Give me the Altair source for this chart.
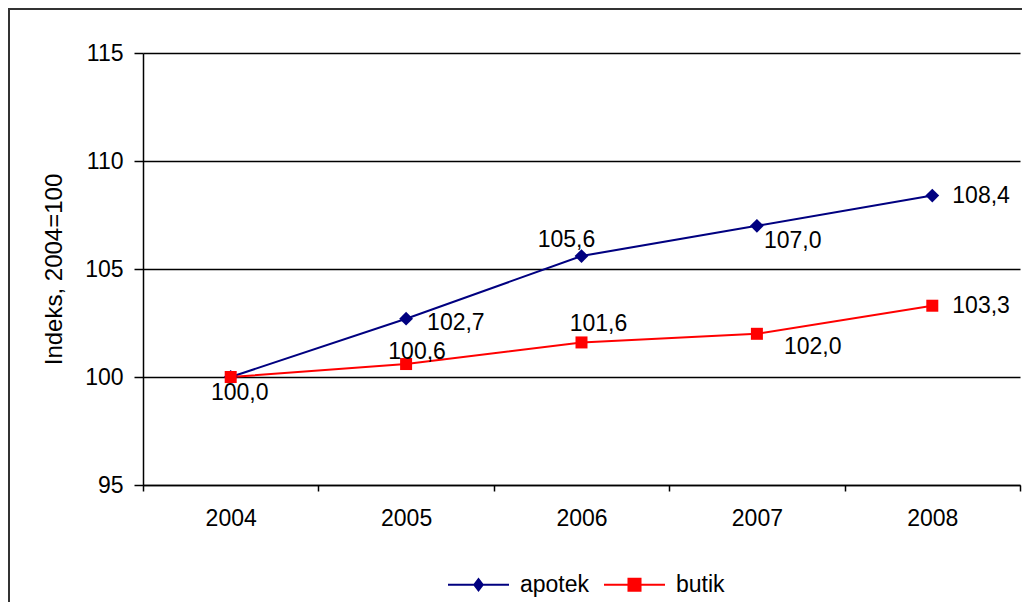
import altair as alt
import pandas as pd

years = ["2004", "2005", "2006", "2007", "2008"]
apotek = [100.0, 102.7, 105.6, 107.0, 108.4]
butik = [100.0, 100.6, 101.6, 102.0, 103.3]
series_names = ["apotek", "butik"]
series_colors = ["#000080", "#FF0000"]
y_ticks = [95, 100, 105, 110, 115]
y_title = "Indeks, 2004=100"

rows = []
for s, vals in zip(series_names, [apotek, butik]):
    for yr, v in zip(years, vals):
        rows.append({"year": yr, "series": s, "value": v,
                     "label": f"{v:.1f}".replace(".", ",")})
df = pd.DataFrame(rows)

FONT = "Liberation Sans"
W, H = 877, 432

# label placement: (align, dx, dy)
placement = {
    ("apotek", "2004"): ("center", 9, 16),
    ("apotek", "2005"): ("left", 21, 4),
    ("apotek", "2006"): ("center", -15, -16),
    ("apotek", "2007"): ("left", 7, 15),
    ("apotek", "2008"): ("left", 20, 0),
    ("butik", "2005"): ("center", 11, -12),
    ("butik", "2006"): ("center", 17, -18),
    ("butik", "2007"): ("left", 27, 13),
    ("butik", "2008"): ("left", 20, 0),
}

xenc = alt.X("year:O", sort=years,
             scale=alt.Scale(domain=years, paddingInner=0, paddingOuter=0),
             axis=alt.Axis(title=None, labelAngle=0, tickBand="extent", tickSize=6,
                           labelPadding=16, labelFontSize=23, grid=False,
                           domainColor="black", domainWidth=1.5, tickColor="black",
                           tickWidth=1.5, labelColor="black", labelFont=FONT))
yenc = alt.Y("value:Q",
             scale=alt.Scale(domain=[95, 115], nice=False, zero=False),
             axis=alt.Axis(values=y_ticks, title=y_title, tickSize=9, labelPadding=11,
                           labelFontSize=23, grid=True, gridColor="black", gridWidth=1.5,
                           domainColor="black", domainWidth=1.5, tickColor="black",
                           tickWidth=1.5, labelColor="black", labelFont=FONT,
                           titleFont=FONT, titleFontSize=24, titleFontWeight="normal",
                           titleColor="black", titleX=-89, titleY=H / 2,
                           titleBaseline="middle", titleAngle=270))

base = alt.Chart(df)

frame = alt.Chart(pd.DataFrame({"a": [0]})).mark_rect(
    fill=None, stroke="#333333", strokeWidth=2
).encode(x=alt.value(-134), y=alt.value(-44), x2=alt.value(2000), y2=alt.value(2000))

layers = [frame]
shapes = ["diamond", "square"]
sizes = [190, 144]
for s, c in zip(series_names, series_colors):
    layers.append(base.transform_filter(alt.datum.series == s)
                  .mark_line(color=c, strokeWidth=2).encode(x=xenc, y=yenc))
for s, c, sh, sz in zip(series_names, series_colors, shapes, sizes):
    layers.append(base.transform_filter(alt.datum.series == s)
                  .mark_point(shape=sh, filled=True, color=c, size=sz, opacity=1)
                  .encode(x=xenc, y=yenc))
for (s, yr), (al, dx, dy) in placement.items():
    layers.append(base.transform_filter((alt.datum.series == s) & (alt.datum.year == yr))
                  .mark_text(align=al, baseline="middle", dx=dx, dy=dy, fontSize=23,
                             font=FONT, color="black")
                  .encode(x=xenc, y=yenc, text="label:N"))

legend_paths = [
    "M-1,-0.035H1V0.035H-1Z M0,-0.24L0.18,0L0,0.24L-0.18,0Z",
    "M-1,-0.035H1V0.035H-1Z M-0.23,-0.23H0.23V0.23H-0.23Z",
]
leg = alt.Legend(title=None, orient="none", direction="horizontal", legendX=304,
                 legendY=500, labelFontSize=23, labelFont=FONT, labelColor="black",
                 symbolSize=3721, labelOffset=10, columnPadding=11, symbolOpacity=1)
legend_layer = base.transform_filter(alt.datum.value < 0).mark_point(
    filled=True, opacity=1, size=3721
).encode(
    x=xenc, y=yenc,
    color=alt.Color("series:N", scale=alt.Scale(domain=series_names, range=series_colors),
                    legend=leg),
    shape=alt.Shape("series:N", scale=alt.Scale(domain=series_names, range=legend_paths),
                    legend=leg),
)
layers.append(legend_layer)

chart = alt.layer(*layers).properties(
    width=W, height=H, autosize="none",
    padding={"left": 135, "top": 45, "right": 2, "bottom": 117},
    background="white",
).configure_view(stroke=None)

chart.save("out.html", embed_options={"renderer": "svg", "actions": False})
